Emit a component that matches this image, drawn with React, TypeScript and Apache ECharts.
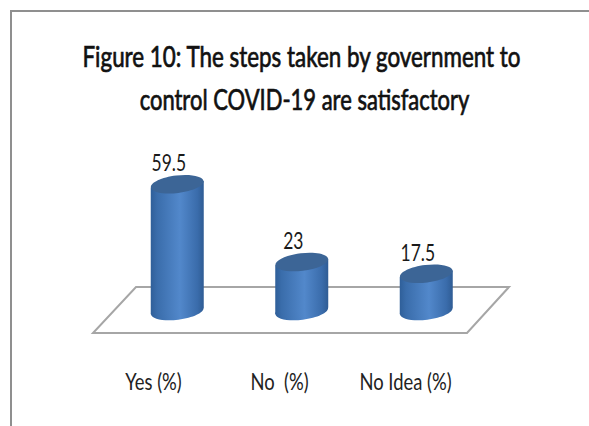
import React, { useEffect, useRef } from "react";
import * as echarts from "echarts";

const categories = ["Yes (%)", "No  (%)", "No Idea (%)"];
const shares = [59.5, 23, 17.5];
const titleLines = [
  "Figure 10: The steps taken by government to",
  "control COVID-19 are satisfactory",
];
const titleCentres = [301.5, 304.5];
const titleMiddles = [56, 99];
const titleScales = [0.8, 0.785];

const BODY = { type: "linear", x: 0, y: 0, x2: 1, y2: 0, colorStops: [
  { offset: 0, color: "#2f5f99" },
  { offset: 0.12, color: "#3a6dab" },
  { offset: 0.55, color: "#5288cb" },
  { offset: 0.88, color: "#3a6cab" },
  { offset: 1, color: "#2f5c94" },
] };

// One tilted cylinder per category: body, bottom cap, top cap and value text.
function renderCylinder(_params: any, api: any) {
  const value = api.value(1);
  const [cx, topY] = api.coord([api.value(0), value]);
  const [, baseY] = api.coord([api.value(0), 0]);
  const rx = 26.5;
  const ry = 8.8;
  const tilt = 0.12;
  const lift = rx * Math.sin(tilt);
  const cap = (y: number, fill: any) => ({
    type: "ellipse",
    x: cx,
    y,
    rotation: tilt,
    shape: { cx: 0, cy: 0, rx, ry },
    style: { fill },
  });
  return {
    type: "group",
    children: [
      cap(baseY, BODY),
      {
        type: "polygon",
        shape: { points: [
          [cx - rx, topY + lift],
          [cx + rx, topY - lift],
          [cx + rx, baseY - lift],
          [cx - rx, baseY + lift],
        ] },
        style: { fill: BODY },
      },
      cap(topY, "#3c6596"),
      {
        type: "text",
        x: cx - 8.5,
        y: topY - 22,
        scaleX: 0.76,
        style: {
          text: String(value),
          fill: "#1a1a1a",
          font: '23px Lato',
          textAlign: "center",
          textVerticalAlign: "middle",
        },
      },
    ],
  };
}

// Category names sit under the front edge of the floor.
function renderCategory(params: any, api: any) {
  const [cx, y] = api.coord([api.value(0), 0]);
  return {
    type: "text",
    x: cx,
    y: y + 47,
    scaleX: 0.8,
    style: {
      text: categories[params.dataIndex],
      fill: "#222222",
      font: '23px Lato',
      textAlign: "center",
      textVerticalAlign: "middle",
    },
  };
}

export default function App() {
  const ref = useRef<HTMLDivElement>(null);
  useEffect(() => {
    const chart = echarts.init(ref.current!, undefined, { renderer: "svg" });
    chart.setOption({
      animation: false,
      backgroundColor: "#ffffff",
      grid: [
        { left: 115, width: 373.5, top: 183.2, height: 127.8 },
        { left: 90.5, width: 378, top: 300, height: 34 },
      ],
      xAxis: [
        { gridIndex: 0, type: "category", data: categories, show: false },
        { gridIndex: 1, type: "category", data: categories, show: false },
      ],
      yAxis: [
        { gridIndex: 0, type: "value", min: 0, max: 60, show: false },
        { gridIndex: 1, type: "value", min: 0, max: 1, show: false },
      ],
      graphic: [
        { type: "polyline", z: 0, shape: { points: [[11, 426], [11, 11], [589, 11]] },
          style: { fill: "none", stroke: "#8f8f8f", lineWidth: 2 } },
        { type: "polygon", z: 0, shape: { points: [[136, 287], [509, 287], [467, 333], [93, 333]] },
          style: { fill: "#ffffff", stroke: "#a6a6a6", lineWidth: 2 } },
        ...titleLines.map((text, i) => ({
          type: "text",
          z: 1,
          x: titleCentres[i],
          y: titleMiddles[i],
          scaleX: titleScales[i],
          style: {
            text,
            fill: "#111111",
            stroke: "#111111",
            lineWidth: 0.7,
            font: '28px Lato',
            textAlign: "center",
            textVerticalAlign: "middle",
          },
        })),
      ],
      series: [
        {
          type: "custom",
          xAxisIndex: 0,
          yAxisIndex: 0,
          z: 5,
          clip: false,
          renderItem: renderCylinder,
          data: categories.map((_, i) => [i, shares[i]]),
        },
        {
          type: "custom",
          xAxisIndex: 1,
          yAxisIndex: 1,
          clip: false,
          silent: true,
          renderItem: renderCategory,
          data: categories.map((_, i) => [i, 0]),
        },
      ],
    });
    return () => chart.dispose();
  }, []);
  return <div ref={ref} style={{ position: "fixed", left: 0, top: 0, width: 589, height: 426 }} />;
}
